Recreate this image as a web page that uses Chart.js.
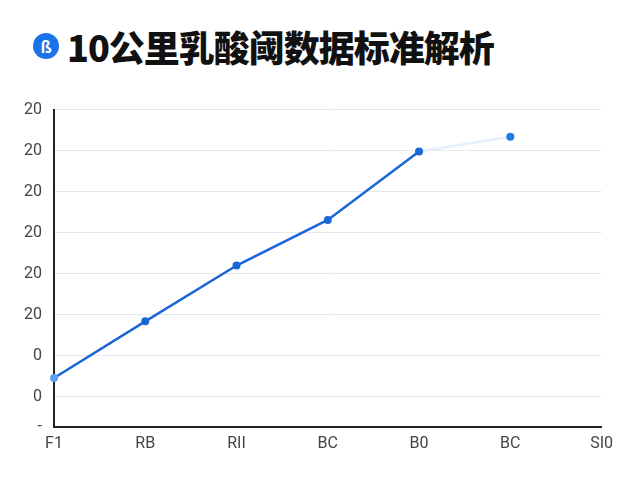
<!DOCTYPE html>
<html><head><meta charset="utf-8">
<script src="https://cdn.jsdelivr.net/npm/chart.js@4"></script>
<style>
body{margin:0;background:#fff;width:640px;height:480px;overflow:hidden;font-family:"Noto Sans CJK SC","Noto Sans",sans-serif}
#t{position:absolute;left:33px;top:20px;display:flex;align-items:center;font-weight:900;font-size:36px;color:#111;letter-spacing:-1px}
#ic{width:26px;height:26px;border-radius:50%;background:#1a73e8;color:#fff;font-size:16px;display:flex;align-items:center;justify-content:center;margin-right:8px;font-weight:700;letter-spacing:0}
#w{position:absolute;left:12px;top:88px;width:605px;height:370px}
</style></head><body>
<div id="t"><div id="ic">ß</div>10公里乳酸阈数据标准解析</div>
<div id="w"><canvas id="c"></canvas></div>
<script>
const categories=["F1","RB","RII","BC","B0","BC","SI0"];
const values=[0.46,1.84,3.2,4.31,5.98,6.34,null];
const tickValues=[-0.73,0,1,2,3,4,5,6,7];
const tickLabels=["-","0","0","20","20","20","20","20","20"];
new Chart(document.getElementById('c'),{type:'line',
data:{labels:categories,datasets:[{data:values,borderColor:'#1a66d6',borderWidth:2.5,
 pointBackgroundColor:['#5aa0ef','#1a66d6','#1a66d6','#1a66d6','#1a66d6','#1f7ae8'],pointBorderWidth:0,pointRadius:4,
 segment:{borderColor:c=>c.p0DataIndex===4?'#e6f0fb':undefined},tension:0}]},
options:{responsive:true,maintainAspectRatio:false,animation:false,
 plugins:{legend:{display:false},tooltip:{enabled:false}},
 scales:{
  x:{offset:false,grid:{display:false,drawTicks:true,tickLength:4},border:{color:'#222',width:2},
   ticks:{color:'#444',font:{size:16,family:'Roboto'},padding:4}},
  y:{min:-0.73,max:7,afterBuildTicks:s=>{s.ticks=tickValues.map(v=>({value:v}))},
   grid:{color:'#e6e8ec',drawTicks:false},border:{color:'#222',width:2},
   ticks:{color:'#444',font:{size:16,family:'Roboto'},padding:12,callback:(v,i)=>tickLabels[i]}}
 }}});
</script></body></html>
